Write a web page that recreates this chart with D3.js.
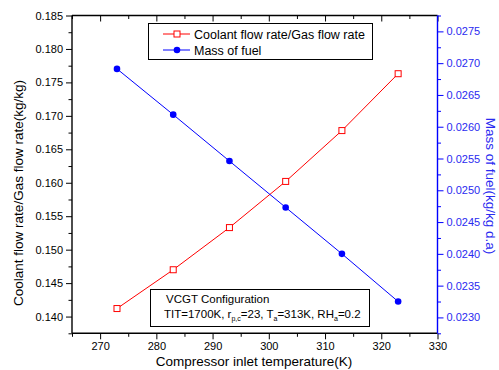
<!DOCTYPE html>
<html><head><meta charset="utf-8">
<script src="https://cdn.jsdelivr.net/npm/d3@7"></script>
<style>body{margin:0;background:#fff}svg{display:block;font-family:"Liberation Sans",Arial,sans-serif}</style>
</head><body>
<svg id="c" width="499" height="370"></svg>
<script>
const temps = [273, 283, 293, 303, 313, 323];
const coolantRatio = [0.1412, 0.1470, 0.1533, 0.1602, 0.1678, 0.1763];
const massFuel = [0.02691, 0.02619, 0.02546, 0.02473, 0.02400, 0.02325];
const xTicks = [270, 280, 290, 300, 310, 320, 330];
const yLeftTicks = [0.140, 0.145, 0.150, 0.155, 0.160, 0.165, 0.170, 0.175, 0.180, 0.185];
const yRightTicks = [0.0230, 0.0235, 0.0240, 0.0245, 0.0250, 0.0255, 0.0260, 0.0265, 0.0270, 0.0275];
const legendLabels = ["Coolant flow rate/Gas flow rate", "Mass of fuel"];

const svg = d3.select("#c");
const L = 72, R = 437.5, T = 15.5, B = 333.3;
const x = d3.scaleLinear().domain([265, 330]).range([L, R]);
const yL = d3.scaleLinear().domain([0.1375, 0.185]).range([B, T]);
const yR = d3.scaleLinear().domain([0.02275, 0.02775]).range([B, T]);
const blue = "#0000ff", red = "#ff0000";

function minor(arr, step) { const out=[]; for (let i=0;i<arr.length;i++) out.push(arr[i]-step/2); out.push(arr[arr.length-1]+step/2); return out; }

// bottom axis
const gx = svg.append("g").attr("transform", `translate(0,${B})`)
  .call(d3.axisBottom(x).tickValues(xTicks).tickSize(6).tickPadding(3).tickFormat(d3.format("d")));
svg.append("g").attr("transform", `translate(0,${B})`)
  .call(d3.axisBottom(x).tickValues(minor(xTicks,10).filter(v=>v>=265&&v<=330)).tickSize(3.5).tickFormat(""))
  .select(".domain").remove();
// top axis (mirror)
const gt = svg.append("g").attr("transform", `translate(0,${T})`)
  .call(d3.axisBottom(x).tickValues(xTicks).tickSize(6).tickFormat(""));
svg.append("g").attr("transform", `translate(0,${T})`)
  .call(d3.axisBottom(x).tickValues(minor(xTicks,10).filter(v=>v>=265&&v<=330)).tickSize(3.5).tickFormat(""))
  .select(".domain").remove();
gt.select(".domain").attr("d", `M${L},0H${R}`);
// left axis
const gl = svg.append("g").attr("transform", `translate(${L},0)`)
  .call(d3.axisLeft(yL).tickValues(yLeftTicks).tickSize(6).tickPadding(3).tickFormat(d3.format(".3f")));
svg.append("g").attr("transform", `translate(${L},0)`)
  .call(d3.axisLeft(yL).tickValues(minor(yLeftTicks,0.005).filter(v=>v>=0.1374&&v<=0.1851)).tickSize(3.5).tickFormat(""))
  .select(".domain").remove();
// right axis
const gr = svg.append("g").attr("transform", `translate(${R},0)`)
  .call(d3.axisRight(yR).tickValues(yRightTicks).tickSize(6).tickPadding(3).tickFormat(d3.format(".4f")));
svg.append("g").attr("transform", `translate(${R},0)`)
  .call(d3.axisRight(yR).tickValues(minor(yRightTicks,0.0005).filter(v=>v>=0.02274&&v<=0.02776)).tickSize(3.5).tickFormat(""))
  .attr("class","rminor").select(".domain").remove();
gr.selectAll("path,line").attr("stroke", blue);
svg.selectAll(".rminor line").attr("stroke", blue);
gr.selectAll("text").attr("fill", "#2a2af0");

svg.selectAll(".domain").attr("stroke-width", 1.4);
svg.selectAll(".tick line").attr("stroke-width", 1);
svg.selectAll(".tick text").attr("font-size", 11).attr("font-family", '"Liberation Sans",Arial,sans-serif');
gx.select(".domain").attr("d", `M${L},0H${R}`);
gl.select(".domain").attr("d", `M0,${T}V${B}`);
gr.select(".domain").attr("d", `M0,${T}V${B}`);

// lines
const lineRed = d3.line().x((d,i)=>x(temps[i])).y(d=>yL(d));
svg.append("path").attr("d", lineRed(coolantRatio)).attr("fill","none").attr("stroke",red).attr("stroke-width",1);
const lineBlue = d3.line().x((d,i)=>x(temps[i])).y(d=>yR(d));
svg.append("path").attr("d", lineBlue(massFuel)).attr("fill","none").attr("stroke",blue).attr("stroke-width",1);
svg.selectAll(".sq").data(coolantRatio).enter().append("rect")
  .attr("x",(d,i)=>x(temps[i])-3).attr("y",d=>yL(d)-3).attr("width",6).attr("height",6)
  .attr("fill","#fff").attr("stroke",red).attr("stroke-width",1);
svg.selectAll(".ci").data(massFuel).enter().append("circle")
  .attr("cx",(d,i)=>x(temps[i])).attr("cy",d=>yR(d)).attr("r",3.3).attr("fill",blue);

// axis titles
svg.append("text").attr("transform","translate(23,193) rotate(-90)").attr("text-anchor","middle")
  .attr("font-size",13.5).text("Coolant flow rate/Gas flow rate(kg/kg)");
svg.append("text").attr("transform","translate(486,186) rotate(90)").attr("text-anchor","middle")
  .attr("font-size",13.5).attr("fill","#2a2af0").text("Mass of fuel(kg/kg d.a)");
svg.append("text").attr("x",254).attr("y",366).attr("text-anchor","middle")
  .attr("font-size",13.5).text("Compressor inlet temperature(K)");

// legend
svg.append("rect").attr("x",148.5).attr("y",23.5).attr("width",224).attr("height",36)
  .attr("fill","#fff").attr("stroke","#000").attr("stroke-width",1);
const lg = [{c:red, t:legendLabels[0], y:34},{c:blue, t:legendLabels[1], y:50}];
lg.forEach((e,i)=>{
  svg.append("line").attr("x1",163).attr("x2",190).attr("y1",e.y).attr("y2",e.y).attr("stroke",e.c).attr("stroke-width",1);
  if(i===0) svg.append("rect").attr("x",174).attr("y",e.y-3).attr("width",6).attr("height",6).attr("fill","#fff").attr("stroke",red);
  else svg.append("circle").attr("cx",177).attr("cy",e.y).attr("r",3.3).attr("fill",blue);
  svg.append("text").attr("x",194).attr("y",e.y+4.5).attr("font-size",12.5).text(e.t);
});

// annotation box
svg.append("rect").attr("x",150.5).attr("y",289.5).attr("width",219).attr("height",37)
  .attr("fill","#fff").attr("stroke","#000").attr("stroke-width",1);
svg.append("text").attr("x",166).attr("y",303).attr("font-size",11.5).text("VCGT Configuration");
const t2 = svg.append("text").attr("x",164).attr("y",318).attr("font-size",11.5);
t2.append("tspan").text("TIT=1700K, r");
t2.append("tspan").attr("font-size",7).attr("dy",3).text("p,c");
t2.append("tspan").attr("dy",-3).text("=23, T");
t2.append("tspan").attr("font-size",7).attr("dy",3).text("a");
t2.append("tspan").attr("dy",-3).text("=313K, RH");
t2.append("tspan").attr("font-size",7).attr("dy",3).text("a");
t2.append("tspan").attr("dy",-3).text("=0.2");
</script>
</body></html>
